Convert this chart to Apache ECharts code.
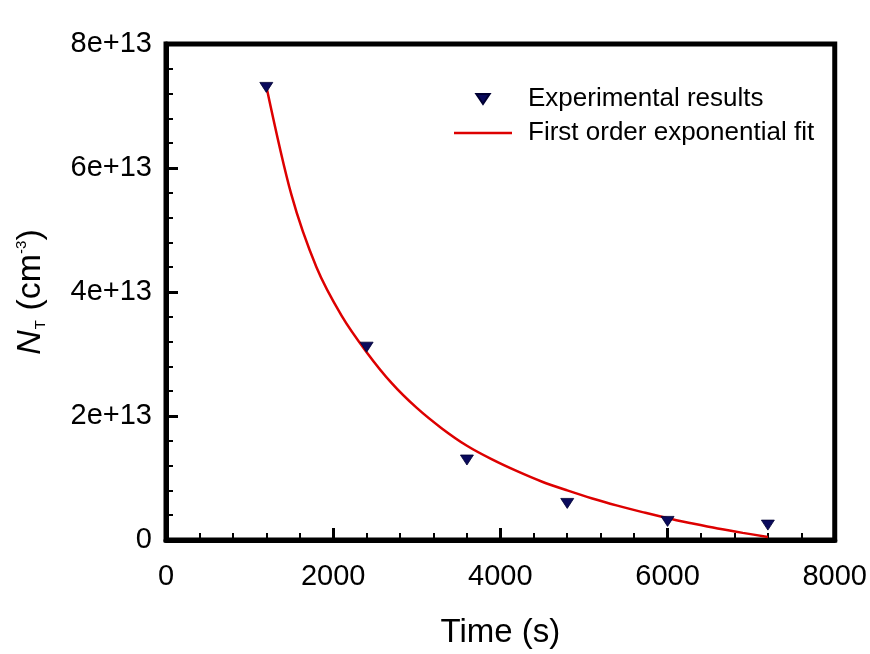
<!DOCTYPE html>
<html>
<head>
<meta charset="utf-8">
<script src="https://cdn.jsdelivr.net/npm/echarts@6/dist/echarts.min.js"></script>
<style>
  html, body { margin: 0; padding: 0; background: #ffffff; }
  #chart { width: 870px; height: 654px; }
</style>
</head>
<body>
<div id="chart"></div>
<script>
// Measured trap density N_T over time
var timeSeconds = [1200, 2400, 3600, 4800, 6000, 7200];
var trapDensity = [7.30e13, 3.11e13, 1.29e13, 0.59e13, 0.30e13, 0.24e13];

// First order exponential fit, sampled every 300 s along the fitted curve
var fitTime = [1200, 1500, 1800, 2100, 2400, 2700, 3000, 3300, 3600, 3900, 4200, 4500, 4800, 5100, 5400, 5700, 6000, 6300, 6600, 6900, 7200];
var fitDensity = [7.32e13, 5.57e13, 4.40e13, 3.62e13, 3.03e13, 2.53e13, 2.13e13, 1.80e13, 1.52e13, 1.30e13, 1.11e13, 0.94e13, 0.80e13, 0.67e13, 0.555e13, 0.45e13, 0.35e13, 0.265e13, 0.185e13, 0.115e13, 0.05e13];

var xTickLabels = ['0', '2000', '4000', '6000', '8000'];
var yTickLabels = ['0', '2e+13', '4e+13', '6e+13', '8e+13'];

var seriesNames = ['Experimental results', 'First order exponential fit'];

var pointData = timeSeconds.map(function (t, i) { return [t, trapDensity[i]]; });
var fitData = fitTime.map(function (t, i) { return [t, fitDensity[i]]; });

var downTriangle = 'path://M0,0 L12,0 L6,9 Z';
var lineIcon = 'path://M0,0 L58,0 L58,2.5 L0,2.5 Z';
var sansFont = '"Liberation Sans", Arial, sans-serif';

var chart = echarts.init(document.getElementById('chart'), null, { renderer: 'canvas' });

chart.setOption({
  backgroundColor: '#ffffff',
  animation: false,
  grid: {
    left: 166, right: 34, top: 44, bottom: 112,
    show: true, borderColor: '#000000', borderWidth: 5, backgroundColor: 'transparent'
  },
  legend: {
    orient: 'vertical',
    left: 454, top: 86,
    padding: 0,
    itemGap: 8,
    itemWidth: 58,
    itemHeight: 10,
    textStyle: { fontFamily: sansFont, fontSize: 26, color: '#000000', lineHeight: 26, padding: [0, 0, 0, 11] },
    data: [
      { name: seriesNames[0], icon: downTriangle },
      { name: seriesNames[1], icon: lineIcon }
    ]
  },
  xAxis: {
    type: 'value',
    min: 0, max: 8000, interval: 2000,
    name: 'Time (s)',
    nameLocation: 'middle',
    nameGap: 76,
    nameTextStyle: { fontFamily: sansFont, fontSize: 33, color: '#000000' },
    axisLine: { show: true, onZero: false, lineStyle: { color: '#000000', width: 5 } },
    axisTick: { show: true, inside: true, length: 12, lineStyle: { color: '#000000', width: 3 } },
    minorTick: { show: true, splitNumber: 5, length: 7, lineStyle: { color: '#000000', width: 2 } },
    splitLine: { show: false },
    axisLabel: {
      margin: 22,
      fontFamily: sansFont, fontSize: 29, color: '#000000',
      formatter: function (v) { return xTickLabels[Math.round(v / 2000)]; }
    }
  },
  yAxis: {
    type: 'value',
    min: 0, max: 8e13, interval: 2e13,
    name: '{i|N}{sub|T}{n| (cm}{sup|-3}{n|)}',
    nameLocation: 'middle',
    nameGap: 118,
    nameTextStyle: {
      color: '#000000',
      rich: {
        i: { fontFamily: sansFont, fontSize: 34, fontStyle: 'italic', color: '#000000' },
        sub: { fontFamily: sansFont, fontSize: 15, color: '#000000', verticalAlign: 'bottom', padding: [16, 0, 0, 1] },
        n: { fontFamily: sansFont, fontSize: 34, color: '#000000' },
        sup: { fontFamily: sansFont, fontSize: 15, color: '#000000', verticalAlign: 'top', padding: [0, 0, 16, 0] }
      }
    },
    axisLine: { show: true, onZero: false, lineStyle: { color: '#000000', width: 5 } },
    axisTick: { show: true, inside: true, length: 12, lineStyle: { color: '#000000', width: 3 } },
    minorTick: { show: true, splitNumber: 5, length: 7, lineStyle: { color: '#000000', width: 2 } },
    splitLine: { show: false },
    axisLabel: {
      margin: 14,
      fontFamily: sansFont, fontSize: 29, color: '#000000',
      formatter: function (v) { return yTickLabels[Math.round(v / 2e13)]; }
    }
  },
  series: [
    {
      name: seriesNames[1],
      type: 'line',
      data: fitData,
      smooth: 0.3,
      showSymbol: false,
      symbol: 'none',
      lineStyle: { color: '#dd0000', width: 2.5 },
      itemStyle: { color: '#dd0000' },
      z: 2
    },
    {
      name: seriesNames[0],
      type: 'scatter',
      data: pointData,
      symbol: downTriangle,
      symbolSize: [13, 10],
      symbolKeepAspect: false,
      itemStyle: { color: '#0a0a5c', borderColor: '#000033', borderWidth: 0.8, opacity: 1 },
      z: 3
    }
  ]
});
</script>
</body>
</html>
